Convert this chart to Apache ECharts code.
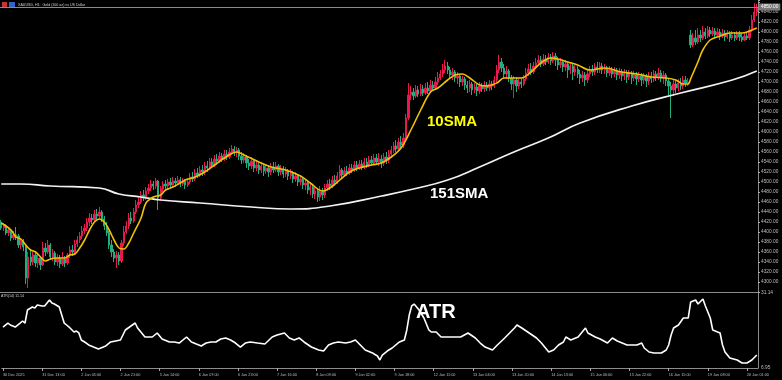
<!DOCTYPE html>
<html><head><meta charset="utf-8">
<script src="https://cdn.jsdelivr.net/npm/echarts@6/dist/echarts.min.js"></script>
<style>html,body{margin:0;padding:0;background:#000}#c{width:782px;height:380px}</style>
</head><body><div id="c"></div>
<script>
const timeLabels = ["30 Dec 2025","31 Dec 13:00","2 Jan 05:00","2 Jan 21:00","5 Jan 14:00","6 Jan 07:00","6 Jan 23:00","7 Jan 16:00","8 Jan 09:00","9 Jan 02:00","9 Jan 18:00","12 Jan 11:00","13 Jan 04:00","13 Jan 20:00","14 Jan 13:00","15 Jan 06:00","15 Jan 22:00","16 Jan 15:00","19 Jan 08:00","20 Jan 01:00"];

const opens = [
4420,4408,4412,4398,4404,4388,4394,4392,4374,4382,
4370,4308,4350,4340,4354,4338,4348,4334,4368,4360,
4374,4350,4358,4340,4348,4336,4346,4338,4354,4364,
4360,4376,4384,4392,4402,4408,4420,4428,4424,4436,
4432,4440,4426,4412,4398,4374,4360,4348,4354,4342,
4378,4400,4412,4428,4422,4440,4454,4460,4474,4468,
4482,4488,4496,4492,4502,4468,4486,4496,4492,4500,
4494,4502,4498,4504,4496,4502,4494,4500,4510,4506,
4518,4514,4524,4520,4532,4528,4540,4534,4546,4542,
4552,4546,4556,4550,4560,4566,4558,4564,4552,4544,
4550,4538,4532,4542,4528,4534,4524,4532,4522,4528,
4520,4530,4524,4532,4520,4526,4516,4522,4512,4518,
4506,4512,4500,4506,4494,4498,4484,4490,4476,4482,
4470,4480,4474,4488,4496,4492,4504,4500,4512,4524,
4514,4522,4518,4528,4524,4534,4528,4536,4530,4540,
4534,4544,4538,4548,4540,4546,4538,4550,4544,4556,
4564,4572,4566,4580,4574,4588,4628,4674,4680,4672,
4684,4676,4686,4678,4688,4682,4694,4688,4700,4708,
4716,4724,4732,4724,4714,4720,4708,4712,4700,4706,
4694,4688,4696,4684,4690,4682,4692,4686,4694,4688,
4696,4692,4704,4724,4740,4728,4716,4722,4708,4696,
4704,4692,4700,4696,4706,4718,4726,4720,4732,4738,
4744,4736,4746,4740,4750,4742,4752,4744,4734,4740,
4730,4736,4724,4732,4720,4726,4716,4708,4714,4704,
4716,4724,4720,4730,4724,4732,4724,4728,4718,4724,
4716,4722,4714,4720,4712,4718,4710,4716,4708,4714,
4706,4712,4704,4710,4702,4712,4706,4716,4710,4718,
4708,4714,4702,4692,4684,4696,4688,4698,4692,4704,
4698,4794,4774,4788,4780,4794,4788,4800,4792,4804,
4796,4802,4794,4800,4792,4798,4790,4796,4788,4794,
4788,4796,4790,4784,4792,4788,4804,4824,4840];

const closes = [
4408,4412,4398,4404,4388,4394,4392,4374,4382,4370,
4308,4350,4340,4354,4338,4348,4334,4368,4360,4374,
4350,4358,4340,4348,4336,4346,4338,4354,4364,4360,
4376,4384,4392,4402,4408,4420,4428,4424,4436,4432,
4440,4426,4412,4398,4374,4360,4348,4354,4342,4378,
4400,4412,4428,4422,4440,4454,4460,4474,4468,4482,
4488,4496,4492,4502,4468,4486,4496,4492,4500,4494,
4502,4498,4504,4496,4502,4494,4500,4510,4506,4518,
4514,4524,4520,4532,4528,4540,4534,4546,4542,4552,
4546,4556,4550,4560,4566,4558,4564,4552,4544,4550,
4538,4532,4542,4528,4534,4524,4532,4522,4528,4520,
4530,4524,4532,4520,4526,4516,4522,4512,4518,4506,
4512,4500,4506,4494,4498,4484,4490,4476,4482,4470,
4480,4474,4488,4496,4492,4504,4500,4512,4524,4514,
4522,4518,4528,4524,4534,4528,4536,4530,4540,4534,
4544,4538,4548,4540,4546,4538,4550,4544,4556,4564,
4572,4566,4580,4574,4588,4628,4674,4680,4672,4684,
4676,4686,4678,4688,4682,4694,4688,4700,4708,4716,
4724,4732,4724,4714,4720,4708,4712,4700,4706,4694,
4688,4696,4684,4690,4682,4692,4686,4694,4688,4696,
4692,4704,4724,4740,4728,4716,4722,4708,4696,4704,
4692,4700,4696,4706,4718,4726,4720,4732,4738,4744,
4736,4746,4740,4750,4742,4752,4744,4734,4740,4730,
4736,4724,4732,4720,4726,4716,4708,4714,4704,4716,
4724,4720,4730,4724,4732,4724,4728,4718,4724,4716,
4722,4714,4720,4712,4718,4710,4716,4708,4714,4706,
4712,4704,4710,4702,4712,4706,4716,4710,4718,4708,
4714,4702,4692,4684,4696,4688,4698,4692,4704,4698,
4700,4774,4788,4780,4794,4788,4800,4792,4804,4796,
4802,4794,4800,4792,4798,4790,4796,4788,4794,4788,
4796,4790,4784,4792,4788,4804,4824,4840,4850];

const highs = [
4424,4418,4416,4408,4406,4402,4410,4396,4388,4386,
4376,4360,4364,4360,4358,4356,4352,4380,4378,4384,
4378,4366,4362,4356,4354,4360,4352,4358,4372,4374,
4384,4392,4400,4412,4416,4428,4438,4436,4444,4446,
4450,4444,4432,4420,4402,4384,4366,4362,4360,4384,
4412,4422,4438,4440,4448,4464,4470,4482,4484,4490,
4496,4504,4502,4508,4504,4492,4502,4504,4506,4508,
4510,4508,4512,4510,4508,4506,4508,4518,4520,4526,
4528,4532,4534,4540,4542,4548,4548,4554,4556,4560,
4558,4564,4564,4568,4574,4572,4570,4568,4560,4558,
4554,4546,4550,4546,4542,4538,4540,4536,4536,4534,
4538,4540,4540,4536,4534,4532,4530,4526,4526,4522,
4520,4516,4514,4510,4506,4502,4498,4494,4490,4488,
4492,4488,4496,4504,4506,4512,4514,4520,4534,4528,
4530,4532,4536,4536,4542,4542,4544,4544,4548,4548,
4552,4552,4556,4556,4558,4554,4558,4560,4564,4572,
4580,4584,4588,4592,4598,4636,4698,4692,4688,4694,
4692,4696,4694,4698,4700,4704,4702,4710,4720,4724,
4736,4744,4740,4730,4728,4724,4720,4716,4712,4710,
4702,4704,4700,4698,4696,4700,4698,4702,4700,4704,
4702,4712,4734,4754,4748,4736,4732,4726,4714,4712,
4710,4708,4708,4714,4728,4736,4738,4740,4748,4754,
4752,4756,4754,4758,4756,4760,4758,4750,4748,4744,
4744,4740,4738,4736,4734,4732,4724,4722,4720,4724,
4732,4734,4738,4740,4740,4738,4736,4732,4732,4730,
4730,4728,4728,4726,4726,4724,4724,4722,4722,4720,
4720,4718,4718,4716,4720,4720,4724,4722,4728,4724,
4722,4718,4708,4700,4704,4702,4706,4708,4712,4712,
4708,4804,4798,4804,4808,4804,4812,4808,4812,4810,
4810,4808,4808,4806,4806,4804,4804,4802,4802,4800,
4802,4802,4798,4800,4800,4812,4834,4858,4856];

const lows = [
4404,4402,4394,4392,4382,4384,4384,4368,4366,4362,
4296,4288,4332,4334,4330,4328,4324,4332,4352,4356,
4344,4342,4334,4332,4328,4332,4330,4334,4348,4352,
4356,4370,4378,4386,4396,4402,4412,4416,4420,4426,
4428,4420,4404,4392,4366,4350,4340,4328,4334,4338,
4372,4396,4406,4416,4418,4436,4448,4456,4462,4464,
4476,4482,4484,4486,4444,4462,4480,4486,4486,4488,
4490,4490,4494,4490,4492,4486,4490,4496,4500,4502,
4508,4510,4512,4514,4520,4524,4528,4530,4534,4538,
4540,4542,4544,4546,4554,4552,4550,4544,4536,4538,
4528,4524,4526,4520,4522,4516,4518,4512,4516,4510,
4514,4518,4520,4512,4514,4508,4510,4504,4506,4498,
4500,4492,4494,4486,4484,4476,4474,4468,4466,4460,
4462,4464,4468,4482,4484,4488,4492,4496,4506,4508,
4510,4512,4514,4518,4520,4522,4524,4524,4526,4528,
4530,4532,4534,4534,4532,4528,4532,4536,4538,4548,
4558,4560,4562,4568,4568,4584,4624,4664,4664,4668,
4670,4672,4672,4674,4676,4678,4682,4684,4694,4704,
4710,4718,4716,4708,4704,4700,4696,4690,4692,4684,
4678,4680,4674,4678,4672,4676,4680,4680,4682,4682,
4684,4688,4700,4718,4720,4708,4706,4700,4684,4668,
4680,4686,4688,4692,4702,4712,4714,4716,4726,4732,
4730,4732,4734,4736,4734,4738,4732,4724,4728,4720,
4722,4708,4716,4704,4712,4708,4696,4700,4692,4698,
4710,4712,4714,4718,4718,4716,4716,4710,4712,4708,
4710,4704,4706,4702,4704,4698,4704,4696,4702,4694,
4700,4692,4696,4690,4694,4698,4700,4702,4704,4700,
4696,4692,4674,4628,4672,4678,4682,4684,4686,4690,
4692,4768,4770,4774,4776,4780,4784,4786,4788,4790,
4792,4788,4790,4784,4788,4782,4786,4780,4784,4782,
4784,4782,4780,4782,4784,4784,4800,4820,4832];

// [bar index, value] points
const sma10 = [[0,4418],[4,4404],[6,4390],[8,4386],[10,4374],[12,4364],[14,4360],[16,4350],[18,4342],[20,4346],[22,4348],[26,4348],[28,4354],[30,4356],[32,4368],[34,4384],[36,4404],[38,4420],[40,4426],[42,4420],[44,4404],[46,4384],[48,4368],[50,4366],[52,4378],[54,4398],[57,4428],[59,4458],[62,4470],[65,4474],[67,4484],[70,4490],[73,4498],[75,4504],[79,4510],[83,4520],[87,4534],[91,4548],[96,4560],[99,4554],[105,4540],[110,4530],[116,4524],[122,4512],[126,4498],[131,4482],[134,4488],[138,4504],[142,4520],[146,4528],[151,4534],[155,4538],[159,4550],[163,4568],[167,4604],[171,4644],[175,4680],[178,4688],[182,4704],[185,4714],[188,4716],[191,4708],[195,4694],[198,4692],[202,4698],[205,4708],[212,4708],[216,4720],[220,4738],[224,4748],[227,4746],[231,4740],[235,4734],[240,4724],[246,4728],[253,4720],[259,4716],[265,4710],[271,4708],[275,4704],[278,4696],[280,4696],[281,4706],[284,4740],[286,4764],[289,4784],[293,4792],[297,4798],[302,4798],[304,4800],[308,4808]];

const sma151 = [[0,4496],[8,4496],[20,4492],[40,4488],[48,4476],[57,4470],[65,4464],[81,4458],[102,4450],[118,4446],[134,4452],[155,4472],[168,4486],[182,4504],[195,4530],[209,4560],[223,4588],[236,4618],[257,4652],[277,4678],[298,4704],[308,4722]];

const atr14 = [[0,20.17],[2,21.46],[3,20.82],[5,20.17],[7,21.46],[8,22.11],[9,21.46],[10,25.66],[12,26.62],[13,26.30],[14,27.27],[16,26.95],[17,26.95],[19,28.88],[20,27.91],[21,27.59],[23,26.62],[25,21.46],[26,20.82],[27,20.17],[29,18.56],[30,18.88],[31,18.24],[32,15.98],[34,15.01],[35,14.37],[37,13.72],[39,13.08],[42,14.05],[44,15.34],[46,15.66],[48,15.98],[50,19.21],[54,21.46],[55,19.85],[58,16.95],[61,16.95],[63,18.24],[65,16.30],[68,15.34],[70,15.34],[72,15.01],[75,16.95],[77,15.34],[79,14.69],[81,14.05],[83,15.01],[85,15.34],[87,15.34],[89,16.30],[91,16.63],[93,15.98],[95,15.01],[97,13.72],[99,15.01],[101,15.34],[104,15.01],[107,14.69],[110,16.95],[112,17.59],[115,18.24],[117,16.63],[119,15.98],[121,16.63],[123,15.34],[126,13.72],[129,12.76],[131,12.43],[133,14.37],[135,15.01],[137,15.34],[140,15.01],[142,15.34],[144,15.98],[146,14.37],[148,12.76],[151,11.79],[153,10.82],[154,9.53],[155,11.14],[157,12.43],[159,13.40],[162,15.34],[164,15.98],[165,19.21],[166,24.04],[167,26.95],[168,27.59],[170,25.66],[172,23.08],[174,19.21],[175,18.56],[177,18.56],[179,16.95],[182,16.95],[184,16.95],[187,16.95],[190,18.24],[193,16.63],[195,15.01],[197,13.72],[200,12.76],[202,14.37],[205,16.63],[207,18.24],[209,19.85],[210,20.82],[212,19.85],[215,18.24],[218,16.63],[220,15.01],[223,12.11],[225,12.76],[227,14.37],[229,15.34],[230,16.95],[232,15.98],[235,16.95],[237,18.88],[238,19.85],[239,18.24],[242,16.95],[244,16.30],[247,15.01],[249,16.63],[251,15.66],[255,14.37],[259,14.37],[261,15.01],[262,13.40],[264,12.11],[266,11.79],[269,11.79],[271,12.76],[272,14.37],[273,17.59],[274,19.85],[276,20.82],[278,23.08],[280,23.08],[281,28.24],[283,28.88],[284,27.59],[286,29.20],[287,26.95],[289,23.08],[290,19.21],[292,18.56],[293,18.24],[294,14.37],[295,12.11],[297,10.18],[300,9.53],[302,8.56],[304,8.56],[306,9.53],[308,11.14]];

const priceMin = 4280, priceMax = 4864, priceStep = 20;
const atrMin = 6.95, atrMax = 31.14;

const N = closes.length;
const cats = closes.map((_, i) => String(i));
const candles = closes.map((c, i) => [opens[i], c, lows[i], highs[i]]);
const lastClose = closes[N - 1];
const lastAtr = atr14[atr14.length - 1][1];

const UP = '#e8194f', DOWN = '#1fae7d';
const AX = '#8c8c8c', TXT = '#bdbdbd';
const FONT = 'Arial, "Liberation Sans", sans-serif';

const chart = echarts.init(document.getElementById('c'), null, {renderer: 'canvas'});
chart.setOption({
  backgroundColor: '#000',
  animation: false,
  grid: [
    {left: 0, right: 24, top: 0, height: 292},
    {left: 0, right: 24, top: 293, height: 75}
  ],
  xAxis: [
    {type: 'category', gridIndex: 0, data: cats, boundaryGap: true,
     axisLine: {show: true, lineStyle: {color: AX, width: 1}},
     axisTick: {show: false}, axisLabel: {show: false}, splitLine: {show: false}},
    {type: 'category', gridIndex: 1, data: cats, boundaryGap: true,
     axisLine: {show: true, lineStyle: {color: AX, width: 1}},
     axisTick: {show: true, interval: 15, alignWithLabel: true, length: 3, lineStyle: {color: '#aaa'}},
     axisLabel: {interval: 15, align: 'left', margin: 5, color: TXT, fontSize: 3.8, fontFamily: FONT,
       formatter: (v, i) => timeLabels[Math.round(i / 16)] || ''},
     splitLine: {show: false}}
  ],
  yAxis: [
    {type: 'value', gridIndex: 0, position: 'right', min: priceMin, max: priceMax, interval: priceStep,
     axisLine: {show: true, lineStyle: {color: AX, width: 1}},
     axisTick: {show: true, length: 2, lineStyle: {color: '#aaa'}},
     axisLabel: {color: TXT, fontSize: 4.8, margin: 3, fontFamily: FONT,
       formatter: v => (v <= priceMin || v >= 4850) ? '' : v.toFixed(2)},
     splitLine: {show: false}},
    {type: 'value', gridIndex: 1, position: 'right', min: atrMin, max: atrMax,
     axisLine: {show: true, lineStyle: {color: AX, width: 1}},
     axisTick: {show: false},
     axisLabel: {color: TXT, fontSize: 4.8, margin: 3, fontFamily: FONT, showMinLabel: true, showMaxLabel: true,
       formatter: v => (Math.abs(v - atrMin) < 1e-6 || Math.abs(v - atrMax) < 1e-6) ? v.toFixed(2) : ''},
     splitLine: {show: false}}
  ],
  series: [
    {type: 'candlestick', xAxisIndex: 0, yAxisIndex: 0, data: candles, barWidth: '74%',
     itemStyle: {color: UP, color0: DOWN, borderColor: UP, borderColor0: DOWN, borderWidth: 1},
     markLine: {symbol: 'none', silent: true, animation: false,
       data: [{yAxis: lastClose}],
       lineStyle: {color: '#8a8a8a', width: 1, type: 'solid'},
       label: {position: 'end', distance: 1, formatter: lastClose.toFixed(2), color: '#fff',
         backgroundColor: '#7a7a7a', padding: [1, 2, 1, 2], fontSize: 4.8, fontFamily: FONT}}},
    {type: 'line', name: '151SMA', xAxisIndex: 0, yAxisIndex: 0, data: sma151, smooth: 0.5,
     symbol: 'none', lineStyle: {color: '#f2f2f2', width: 1.7}, z: 3},
    {type: 'line', name: '10SMA', xAxisIndex: 0, yAxisIndex: 0, data: sma10, smooth: 0.35,
     symbol: 'none', lineStyle: {color: '#f2c200', width: 1.6}, z: 4},
    {type: 'line', name: 'ATR', xAxisIndex: 1, yAxisIndex: 1, data: atr14, smooth: false,
     symbol: 'none', lineStyle: {color: '#ffffff', width: 1.6}}
  ],
  graphic: [
    {type: 'rect', left: 2, top: 2, shape: {width: 5, height: 5}, style: {fill: '#c8323c'}},
    {type: 'rect', left: 9, top: 2, shape: {width: 6, height: 5}, style: {fill: '#3a62c4'}},
    {type: 'text', left: 18, top: 2.5, style: {text: 'XAUUSD, H1:  Gold (100 oz) vs US Dollar', fill: '#cfcfcf', font: '3.6px ' + FONT}},
    {type: 'text', left: 1, top: 294, style: {text: 'ATR(14) ' + lastAtr.toFixed(2), fill: '#cfcfcf', font: '3.6px ' + FONT}},
    {type: 'text', left: 427, top: 114, style: {text: '10SMA', fill: '#ffff00', font: 'bold 15px ' + FONT}},
    {type: 'text', left: 430, top: 186, style: {text: '151SMA', fill: '#ffffff', font: 'bold 15px ' + FONT}},
    {type: 'text', left: 416, top: 302, style: {text: 'ATR', fill: '#ffffff', font: 'bold 20px ' + FONT}}
  ]
});
</script></body></html>
